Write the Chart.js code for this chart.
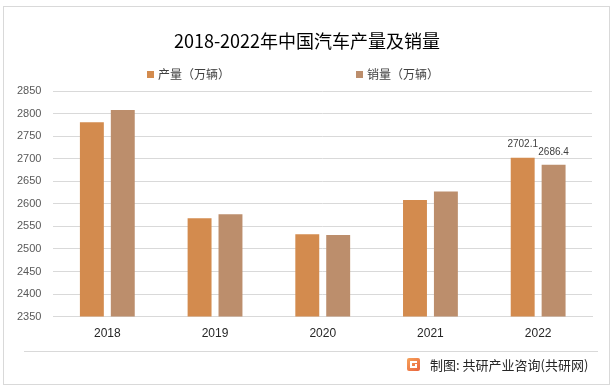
<!DOCTYPE html>
<html>
<head>
<meta charset="utf-8">
<script src="https://cdn.jsdelivr.net/npm/chart.js@4.4.0/dist/chart.umd.min.js"></script>
<style>
html,body{margin:0;padding:0;background:#fff;}
#wrap{width:614px;height:389px;position:relative;}
</style>
</head>
<body>
<div id="wrap"><canvas id="c" width="614" height="389"></canvas></div>
<script>
const years = ['2018', '2019', '2020', '2021', '2022'];
const production = [2780.9, 2567.7, 2532.5, 2608.2, 2702.1];
const sales = [2808.1, 2576.9, 2531.1, 2627.5, 2686.4];
const seriesNames = ['产量（万辆）', '销量（万辆）'];
const labelledYears = ['2022'];
const titleText = '2018-2022年中国汽车产量及销量';
const sourceText = '制图: 共研产业咨询(共研网)';
const yMin = 2350, yMax = 2850, yStep = 50;

const colors = ['#D38B4E', '#BC8E6C'];
const CJK = '"Noto Sans CJK SC", "Noto Sans", sans-serif';
const LAT = '"Liberation Sans", Arial, sans-serif';

const decor = {
  id: 'decor',
  beforeDraw(chart) {
    const ctx = chart.ctx;
    ctx.save();
    ctx.fillStyle = '#fff';
    ctx.fillRect(0, 0, chart.width, chart.height);
    ctx.restore();
  },
  afterDraw(chart) {
    const ctx = chart.ctx;
    ctx.save();
    ctx.strokeStyle = '#D9D9D9';
    ctx.lineWidth = 1;
    ctx.strokeRect(3.5, 6.5, 606, 378);
    ctx.fillStyle = '#000';
    ctx.font = '18px ' + CJK;
    ctx.textAlign = 'center';
    ctx.textBaseline = 'middle';
    ctx.fillText(titleText, 307, 41);
    ctx.font = '12px ' + CJK;
    ctx.textAlign = 'left';
    const lx = [147, 356];
    chart.data.datasets.forEach((ds, i) => {
      ctx.fillStyle = ds.backgroundColor;
      ctx.fillRect(lx[i], 71, 7, 7);
      ctx.fillStyle = '#404040';
      ctx.fillText(ds.label, lx[i] + 11, 74.5);
    });
    ctx.strokeStyle = '#D9D9D9';
    ctx.beginPath();
    ctx.moveTo(24, 351.5);
    ctx.lineTo(598, 351.5);
    ctx.stroke();
    const g = ctx.createLinearGradient(407, 358, 420, 372);
    g.addColorStop(0, '#F7A35A');
    g.addColorStop(1, '#E8603C');
    ctx.fillStyle = g;
    ctx.beginPath();
    ctx.roundRect(407, 358, 13, 13, 2);
    ctx.fill();
    ctx.fillStyle = '#fff';
    ctx.fillRect(410, 361, 7, 2);
    ctx.fillRect(410, 361, 2, 7);
    ctx.fillRect(410, 366, 7, 2);
    ctx.fillRect(415, 364, 2, 4);
    ctx.fillStyle = '#262626';
    ctx.font = '13px ' + CJK;
    ctx.textAlign = 'left';
    ctx.fillText(sourceText, 430, 365);
    ctx.restore();
  },
  afterDatasetsDraw(chart) {
    const ctx = chart.ctx;
    ctx.save();
    ctx.font = '10px ' + LAT;
    ctx.fillStyle = '#404040';
    ctx.textAlign = 'center';
    ctx.textBaseline = 'middle';
    chart.data.datasets.forEach((ds, di) => {
      const meta = chart.getDatasetMeta(di);
      chart.data.labels.forEach((lab, i) => {
        if (!labelledYears.includes(lab)) return;
        const el = meta.data[i];
        ctx.fillText(ds.data[i].toFixed(1), el.x, el.y - 13);
      });
    });
    ctx.restore();
  }
};

new Chart(document.getElementById('c'), {
  type: 'bar',
  data: {
    labels: years,
    datasets: [
      { label: seriesNames[0], data: production, backgroundColor: colors[0] },
      { label: seriesNames[1], data: sales, backgroundColor: colors[1] }
    ]
  },
  options: {
    responsive: false,
    animation: false,
    devicePixelRatio: 1,
    categoryPercentage: 0.574,
    barPercentage: 0.774,
    layout: { padding: { top: 91, left: 5, right: 22, bottom: 38 } },
    plugins: {
      legend: { display: false },
      title: { display: false },
      tooltip: { enabled: false }
    },
    scales: {
      x: {
        grid: { display: false, drawTicks: false },
        border: { display: true, color: '#D9D9D9' },
        ticks: { color: '#262626', font: { family: LAT, size: 12 }, padding: 10 }
      },
      y: {
        min: yMin, max: yMax,
        grid: { color: '#D9D9D9', drawTicks: false },
        border: { display: false },
        ticks: { stepSize: yStep, color: '#595959', font: { family: LAT, size: 11 }, padding: 12,
                 callback: (v) => String(v) }
      }
    }
  },
  plugins: [decor]
});
</script>
</body>
</html>
